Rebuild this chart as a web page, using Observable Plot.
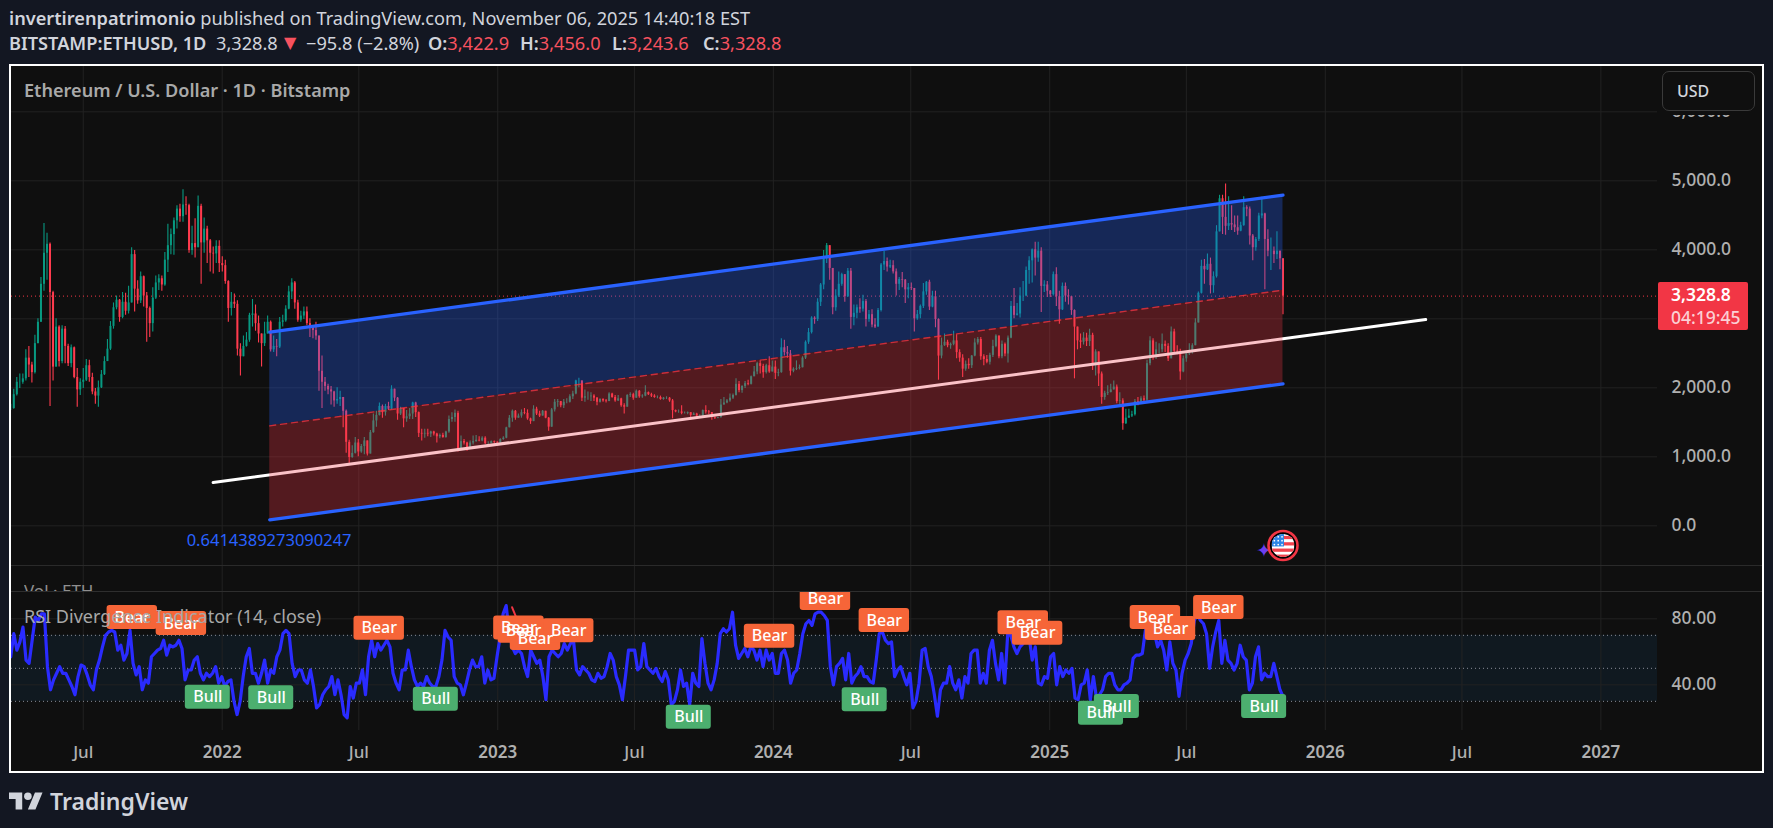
<!DOCTYPE html>
<html><head><meta charset="utf-8">
<script src="https://cdn.jsdelivr.net/npm/d3@7"></script>
<script src="https://cdn.jsdelivr.net/npm/@observablehq/plot@0.6"></script>
<style>
html,body{margin:0;padding:0;background:#131722;width:1773px;height:828px;overflow:hidden;font-family:"Noto Sans",sans-serif}
.abs{position:absolute;white-space:nowrap}
svg{display:block;background:transparent}
#frame{left:9px;top:64px;width:1751px;height:705px;border:2px solid #fff;background:#0f0f0f}
.hdr{font-size:18.2px;color:#d1d4dc;line-height:24px}
.hdr b{font-weight:600}.r{color:#f7525f}
#p1,#p2{position:absolute;left:11px}
</style></head><body>
<div class="abs hdr" style="left:9px;top:6px"><b>invertirenpatrimonio</b> published on TradingView.com, November 06, 2025 14:40:18 EST</div>
<div class="abs hdr" style="left:9px;top:31px"><b>BITSTAMP:ETHUSD, 1D</b></div>
<div class="abs hdr" style="left:216px;top:31px">3,328.8</div>
<div class="abs hdr r" style="left:284px;top:31px;font-family:'DejaVu Sans';font-size:16px">▼</div>
<div class="abs hdr" style="left:306px;top:31px">−95.8 (−2.8%)</div>
<div class="abs hdr" style="left:428px;top:31px"><b>O:</b><span class="r">3,422.9</span></div>
<div class="abs hdr" style="left:520px;top:31px"><b>H:</b><span class="r">3,456.0</span></div>
<div class="abs hdr" style="left:612px;top:31px"><b>L:</b><span class="r">3,243.6</span></div>
<div class="abs hdr" style="left:703px;top:31px"><b>C:</b><span class="r">3,328.8</span></div>
<div id="frame" class="abs"></div>
<div id="p1" style="top:66px"></div>
<div id="p2" style="top:591px"></div>
<div class="abs" style="left:11px;top:565px;width:1751px;height:1px;background:#2a2a2a"></div>
<div class="abs" style="left:11px;top:591px;width:1751px;height:1px;background:#2e2e2e"></div>
<div class="abs" style="left:24px;top:78px;font-size:18.1px;font-weight:600;color:#a9a9a9;line-height:24px">Ethereum / U.S. Dollar · 1D · Bitstamp</div>
<div class="abs" style="left:24px;top:566px;height:25px;overflow:hidden;font-size:17px;color:#8f8f8f;line-height:24px"><div style="margin-top:13px">Vol · ETH</div></div>
<div class="abs" style="left:24px;top:604px;font-size:18px;color:#a8a8a8;line-height:24px">RSI Divergence Indicator (14, close)</div>
<div class="abs" style="left:1660px;top:70px;width:100px;height:45px;background:#0f0f0f"></div>
<div class="abs" style="left:1662px;top:71px;width:91px;height:38px;border:1px solid #3a3a3a;border-radius:7px;background:#0f0f0f;color:#d1d4dc;font-size:16px;font-weight:500;line-height:38px;text-indent:14px">USD</div>
<div class="abs" style="left:1658px;top:282px;width:77px;height:47px;background:#f23645;border-radius:2px;color:#fff;font-size:17.5px;font-weight:600;line-height:23px;padding:1px 0 0 13px">3,328.8<br><span style="color:#fbd0d4;font-weight:500">04:19:45</span></div>
<svg class="abs" style="left:9px;top:791px" width="34" height="20" viewBox="0 3.5 36 19"><g fill="#d1d4dc"><path d="M14 22H7V11H0V4h14v18zM28 22h-8l7.5-18h8L28 22z"/><circle cx="20" cy="8" r="4"/></g></svg>
<div class="abs" style="left:50px;top:784px;font-size:23px;font-weight:600;color:#d1d4dc;line-height:34px">TradingView</div>
<script>
const closes=[
1700,1900,2080,2080,2130,2430,2330,2220,2640,2950,
3500,3950,4080,3380,2300,2880,2380,2850,2600,2350,
2580,2150,1970,2080,2110,2320,2150,1940,1880,2000,
2190,2380,2560,2890,3160,3270,3020,3240,3110,3230,
3930,3430,3260,3610,3330,3150,2930,3300,3520,3580,
3490,3850,4060,4220,4420,4590,4480,4650,4640,3990,
4090,4030,4630,4100,4300,4130,3950,3940,4050,3800,
3770,3540,3150,3240,3210,2560,2450,2600,2690,3050,
3070,2930,2780,2640,2780,2950,2550,2600,2590,2950,
2970,3140,3390,3520,3230,2980,3040,3100,2930,2880,
2830,2750,2240,2080,2020,1970,1940,1810,1830,1860,
1660,1210,990,1050,1200,1070,1150,1230,1040,1350,
1520,1600,1730,1640,1730,1690,1980,1850,1620,1700,
1550,1580,1620,1780,1640,1340,1330,1340,1330,1360,
1330,1290,1310,1280,1360,1540,1570,1630,1100,1220,
1200,1110,1200,1220,1240,1230,1270,1190,1190,1220,
1210,1200,1250,1270,1420,1560,1660,1560,1590,1640,
1630,1550,1510,1690,1620,1590,1660,1560,1430,1680,
1790,1800,1740,1790,1790,1870,1910,2100,2100,1850,
1870,1870,1880,1850,1790,1830,1810,1800,1910,1860,
1810,1840,1740,1720,1890,1900,1850,1950,1870,1880,
1930,1900,1880,1860,1860,1830,1850,1850,1810,1670,
1650,1650,1630,1630,1640,1600,1620,1590,1590,1670,
1650,1640,1570,1560,1570,1750,1780,1810,1850,1890,
2050,1960,2020,2060,2050,2160,2230,2350,2310,2220,
2320,2230,2300,2210,2220,2580,2510,2490,2240,2270,
2280,2290,2430,2660,2800,3010,2990,3240,3490,3870,
4060,3730,3160,3330,3500,3640,3320,3690,3020,3080,
3160,3140,3250,2990,3060,2910,2880,3120,3780,3830,
3750,3770,3680,3500,3570,3560,3420,3450,3440,3000,
3060,3180,3390,3530,3170,3320,2990,2460,2610,2660,
2610,2630,2680,2510,2430,2270,2340,2320,2460,2650,
2700,2450,2410,2370,2470,2600,2750,2450,2630,2490,
2720,3180,3050,3070,3330,3330,3700,3840,4000,3880,
3980,3470,3490,3400,3350,3640,3320,3130,3470,3330,
3320,3120,2880,2680,2660,2720,2670,2760,2320,2520,
2200,1860,1920,1930,1970,2010,1800,1810,1480,1560,
1590,1610,1800,1790,1840,1820,2350,2680,2470,2550,
2550,2630,2600,2420,2810,2530,2520,2230,2420,2490,
2510,2610,2940,3370,3760,3710,3790,3480,3610,4260,
4740,4470,4340,4380,4360,4320,4270,4350,4610,4590,
4200,4030,4150,4490,4520,4150,3980,3980,3930,3980,
3870,3328.8];
const highs=[
1760,1980,2150,2200,2200,2550,2600,2370,2760,3000,
3600,4380,4240,4100,3400,3000,2900,2900,2890,2630,
2620,2590,2280,2130,2280,2410,2400,2210,1990,2100,
2250,2450,2700,2960,3230,3330,3280,3380,3370,3470,
4030,3990,3550,3680,3620,3380,3170,3450,3620,3640,
3620,3960,4370,4300,4460,4640,4660,4870,4770,4660,
4340,4450,4780,4660,4460,4340,4150,4040,4130,4130,
3900,3850,3550,3380,3360,3260,2640,2750,2800,3080,
3280,3200,3040,2780,2950,3040,2970,2750,2700,3020,
3050,3190,3470,3580,3540,3270,3110,3170,3170,3000,
2880,2950,2750,2460,2150,2050,2020,1950,2000,1950,
1860,1680,1240,1160,1280,1250,1180,1280,1230,1380,
1620,1660,1780,1750,1760,1790,2030,1960,1860,1720,
1620,1670,1700,1790,1790,1650,1400,1400,1400,1370,
1370,1340,1330,1340,1370,1590,1640,1680,1660,1300,
1250,1210,1230,1300,1310,1290,1290,1290,1220,1230,
1230,1220,1260,1290,1430,1600,1680,1670,1620,1680,
1700,1680,1560,1740,1720,1660,1670,1660,1570,1700,
1830,1830,1800,1830,1840,1900,1950,2110,2140,2100,
1970,1940,1930,1900,1860,1840,1840,1830,1930,1920,
1890,1890,1850,1770,1900,1930,1920,1970,1960,1900,
2030,1940,1920,1900,1880,1880,1860,1870,1860,1830,
1680,1680,1740,1650,1650,1640,1640,1630,1610,1680,
1740,1670,1640,1580,1570,1830,1860,1830,1910,1910,
2130,2090,2030,2090,2110,2170,2310,2370,2390,2340,
2340,2450,2390,2390,2270,2710,2690,2600,2540,2290,
2390,2330,2450,2680,2860,3030,3030,3290,3510,3990,
4090,4060,3730,3420,3680,3660,3640,3730,3730,3200,
3200,3290,3340,3280,3120,3130,3000,3150,3800,3980,
3880,3850,3840,3720,3600,3670,3570,3510,3520,3440,
3120,3200,3510,3540,3560,3400,3400,3000,2720,2780,
2690,2650,2820,2770,2550,2480,2390,2420,2470,2710,
2730,2730,2480,2470,2500,2690,2770,2750,2680,2650,
2750,3250,3440,3220,3450,3540,3750,3900,4010,4110,
4110,4030,3550,3540,3410,3680,3740,3400,3520,3520,
3420,3260,3130,2870,2780,2800,2790,2850,2790,2550,
2520,2230,1950,2030,2050,2100,2040,1930,1840,1690,
1690,1660,1830,1860,1870,1880,2400,2740,2710,2660,
2640,2780,2680,2640,2880,2850,2610,2560,2460,2520,
2640,2640,3000,3390,3850,3860,3940,3880,3680,4350,
4790,4790,4955,4770,4640,4490,4490,4400,4770,4640,
4620,4220,4180,4530,4760,4530,4290,4170,4040,4260,
3920,3456];
const lows=[
1670,1690,1880,1990,2050,2100,2150,2070,2200,2640,
2950,3400,3560,1730,2100,2300,2300,2350,2350,2310,
2290,2130,1720,1890,1990,2090,2080,1900,1760,1720,
1990,2180,2380,2540,2850,3130,2950,3000,3050,3070,
3230,3100,3210,3220,3170,2660,2730,2810,3280,3410,
3400,3470,3670,3930,3920,4300,4400,4400,4500,3950,
3920,3880,4030,3500,3950,3800,3680,3650,3800,3670,
3680,3500,2950,3040,3150,2460,2170,2450,2590,2660,
2880,2820,2650,2300,2600,2780,2520,2510,2450,2570,
2880,2950,3130,3280,3140,2950,2950,2990,2900,2730,
2710,2690,1950,1700,1950,1900,1750,1720,1760,1730,
1420,1050,880,980,1040,1000,1050,1030,1010,1060,
1340,1430,1590,1560,1590,1670,1680,1800,1530,1600,
1420,1500,1540,1540,1570,1280,1230,1270,1290,1280,
1300,1200,1260,1270,1270,1340,1500,1500,1070,1190,
1170,1080,1110,1170,1210,1220,1220,1180,1160,1190,
1190,1190,1190,1240,1260,1500,1500,1530,1560,1560,
1610,1530,1470,1510,1600,1570,1600,1550,1370,1450,
1650,1720,1710,1700,1770,1780,1830,1900,2000,1800,
1790,1820,1800,1800,1740,1780,1790,1780,1800,1850,
1790,1800,1720,1620,1720,1860,1820,1850,1850,1850,
1870,1890,1860,1850,1840,1820,1820,1830,1790,1550,
1640,1630,1610,1620,1610,1530,1600,1570,1560,1580,
1620,1610,1530,1540,1550,1560,1760,1770,1790,1830,
1880,1930,1920,1990,2030,2040,2170,2190,2200,2140,
2200,2210,2230,2120,2160,2210,2460,2430,2170,2220,
2250,2260,2290,2410,2630,2780,2920,2960,3180,3420,
3800,3560,3060,3110,3310,3470,3240,3310,2850,2900,
3000,3080,3100,2880,2950,2870,2860,2880,3100,3700,
3680,3730,3650,3330,3410,3450,3220,3290,3410,2810,
2980,3000,3150,3340,3120,3160,2870,2110,2420,2600,
2580,2560,2610,2420,2370,2150,2240,2270,2280,2450,
2620,2400,2320,2350,2330,2440,2580,2420,2420,2450,
2360,2710,3000,3040,3010,3250,3320,3500,3520,3620,
3820,3090,3380,3310,3310,3330,3180,2920,3120,3240,
3200,3050,2130,2550,2570,2620,2600,2600,2250,2170,
2020,1760,1820,1890,1930,1990,1770,1750,1385,1470,
1570,1570,1590,1740,1780,1760,1800,2320,2400,2410,
2490,2510,2510,2380,2430,2490,2480,2110,2220,2370,
2470,2490,2620,2950,3360,3500,3700,3360,3370,3590,
4300,4220,4210,4280,4280,4250,4210,4260,4340,4480,
4070,3840,3980,4120,4450,3420,3900,3700,3800,3860,
3710,3060];
const rsi=[57,71,61,66,75,55,53,67,81,79,83,83,51,37,43,47,51,47,47,43,39,34,45,52,51,46,40,37,49,55,63,70,72,73,72,61,64,55,59,73,53,46,51,37,43,41,57,59,61,62,67,58,64,63,64,67,62,43,49,49,55,57,47,43,47,45,47,51,41,45,39,42,43,30,22,30,45,57,62,47,47,41,47,55,41,49,47,57,61,71,73,71,53,45,49,49,43,41,49,39,26,28,34,37,39,45,34,43,34,22,20,39,32,41,41,49,34,57,67,57,65,61,64,67,63,47,41,37,49,49,61,51,43,39,41,39,45,41,39,39,45,55,73,69,67,45,41,40,34,41,49,55,51,51,57,41,49,43,44,57,69,83,88,71,63,59,61,59,51,45,61,57,53,55,45,31,57,61,59,57,59,65,61,65,67,49,46,51,49,47,43,42,47,
44,45,51,59,55,45,40,31,45,61,61,61,49,51,65,51,49,47,50,45,42,48,43,28,30,37,49,39,41,28,47,41,39,68,53,41,37,43,53,71,74,72,74,84,64,56,59,62,57,63,61,55,61,51,61,55,59,47,47,59,61,55,41,47,49,59,71,77,79,76,83,84,84,82,79,51,40,51,53,56,43,59,41,45,47,51,45,45,42,41,55,71,72,67,65,66,45,49,51,45,40,47,26,30,41,61,62,51,45,34,21,37,41,41,51,41,37,43,32,45,41,59,61,61,41,47,41,61,67,53,43,59,41,71,70,63,59,63,65,70,69,55,63,41,40,45,44,57,59,40,51,45,49,47,50,32,31,40,41,49,31,45,32,34,37,45,47,47,40,37,37,40,41,43,56,58,58,59,73,69,71,71,63,67,61,49,66,53,49,33,47,55,59,65,79,83,
79,77,71,50,63,72,79,53,67,55,53,49,53,64,57,55,37,41,57,63,43,47,45,45,53,45,37,33];
const bearLabels=["2021-09-04","2021-11-08","2022-07-28","2023-01-29","2023-02-04","2023-02-20","2023-04-05","2023-12-27","2024-03-10","2024-05-27","2024-11-27","2024-12-16","2025-05-21","2025-06-10","2025-08-13"];
const bearValues=[80.8,77.2,74.3,74.5,72.5,68.1,72.7,69.5,92.3,79,77.6,71.3,80.8,74.1,86.9];
const bullLabels=["2021-12-13","2022-03-07","2022-10-11","2023-09-11","2024-05-01","2025-03-31","2025-03-10","2025-10-12"];
const bullValues=[32.5,32.1,31.3,20.4,30.9,26.9,22.8,26.9];
const redDates=["2023-01-20","2023-01-28"];
const redValues=[87,78];
const channelDates=["2022-03-05","2025-11-06"];
const channelTop=[2806,4792];
const channelMid=[1449,3415];
const channelBottom=[87,2058];
const trendDates=["2021-12-20","2026-05-14"];
const trendValues=[627,2990];
const priceTicks=[0,1000,2000,3000,4000,5000,6000];
const priceLabels=[0,1000,2000,4000,5000,6000];
const rsiTicks=[40,80];
const rsiBands=[30,50,70];
const yearTicks=["2022-01-01","2023-01-01","2024-01-01","2025-01-01","2026-01-01","2027-01-01"];
const julTicks=["2021-07-01","2022-07-01","2023-07-01","2024-07-01","2025-07-01","2026-07-01"];
const lastPrice=3328.8;
const startDay="2021-03-27",endDay="2025-11-06";
const colUp="#089981",colDown="#ff3b4e",grid="#222222",axisCol="#b0b0b0";

const D=s=>new Date(s+"T00:00:00Z");
const shift=(d,n)=>new Date(+d+n*864e5);
const t0=+D(startDay),t1=+D(endDay);
const at=(i,n)=>new Date(t0+(t1-t0)*i/(n-1));
const bars=closes.map((c,i)=>({d:at(i,closes.length),o:i?closes[i-1]:c,c,h:Math.max(highs[i],c,i?closes[i-1]:c),l:Math.min(lows[i],c,i?closes[i-1]:c)}));
const rsiData=rsi.map((v,i)=>({d:at(i,rsi.length),v}));
const channel=channelDates.map((d,i)=>({d:D(d),top:channelTop[i],mid:channelMid[i],bot:channelBottom[i]}));
const trend=trendDates.map((d,i)=>({d:D(d),v:trendValues[i]}));
const allTicks=[...yearTicks,...julTicks].map(D);
const xDomain=[D("2021-03-28"),D("2027-03-17")];
const W=1751,PR=W-1646;
const xScale={type:"utc",domain:xDomain,range:[0,1646]};
const font='"Noto Sans",sans-serif';

const flag="data:image/svg+xml,"+encodeURIComponent(`<svg xmlns="http://www.w3.org/2000/svg" viewBox="0 0 24 24"><clipPath id="c"><circle cx="12" cy="12" r="12"/></clipPath><g clip-path="url(#c)"><rect width="24" height="24" fill="#fff"/><g fill="#f0424d"><rect y="2" width="24" height="3.4"/><rect y="8.6" width="24" height="3.4"/><rect y="15.2" width="24" height="3.4"/><rect y="21.5" width="24" height="3"/></g><rect width="13" height="13" fill="#2e86e6"/><g fill="#fff"><circle cx="3" cy="3" r=".9"/><circle cx="7" cy="3" r=".9"/><circle cx="11" cy="3" r=".9"/><circle cx="3" cy="7" r=".9"/><circle cx="7" cy="7" r=".9"/><circle cx="11" cy="7" r=".9"/><circle cx="3" cy="11" r=".9"/><circle cx="7" cy="11" r=".9"/><circle cx="11" cy="11" r=".9"/></g></g></svg>`);
const iconAt=[{d:D(endDay),v:-285}];

const p1=Plot.plot({width:W,height:525,marginLeft:0,marginRight:PR,marginTop:0,marginBottom:0,
 style:{background:"transparent",fontFamily:font},
 x:{...xScale,axis:null},
 y:{domain:[-952,6656.5],range:[525,0],axis:null},
 marks:[
  Plot.ruleY(priceTicks,{stroke:grid,strokeWidth:1}),
  Plot.ruleX(allTicks,{stroke:grid,strokeWidth:1}),
  Plot.axisY({anchor:"right",ticks:priceLabels,tickSize:0,tickPadding:14,textAnchor:"start",fontSize:17.5,fontWeight:500,fill:axisCol,label:null,tickFormat:d3.format(",.1f")}),
  Plot.ruleY([lastPrice],{stroke:"#f23645",strokeWidth:1,strokeDasharray:"1 3"}),
  Plot.ruleX(bars,{x:"d",y1:"l",y2:"h",stroke:d=>d.c>=d.o?colUp:colDown,strokeWidth:1.1}),
  Plot.ruleX(bars,{x:"d",y1:"o",y2:"c",stroke:d=>d.c>=d.o?colUp:colDown,strokeWidth:2}),
  Plot.line(trend,{x:"d",y:"v",stroke:"#fff",strokeWidth:3}),
  Plot.areaY(channel,{x:"d",y1:"mid",y2:"top",fill:"#2962ff",fillOpacity:.3}),
  Plot.areaY(channel,{x:"d",y1:"bot",y2:"mid",fill:"#f23645",fillOpacity:.3}),
  Plot.line(channel,{x:"d",y:"mid",stroke:"#f23645",strokeOpacity:.75,strokeWidth:1.4,strokeDasharray:"6 5"}),
  Plot.line(channel,{x:"d",y:"top",stroke:"#2962ff",strokeWidth:3.3}),
  Plot.line(channel,{x:"d",y:"bot",stroke:"#2962ff",strokeWidth:3.3}),
  Plot.text(["0.6414389273090247"],{x:()=>D("2021-11-15"),y:()=>-213,text:d=>d,fill:"#2962ff",fontSize:16.5,textAnchor:"start"}),
  Plot.text(iconAt,{x:"d",y:"v",text:()=>"✦",fill:"#6d3ff0",fontFamily:"DejaVu Sans",fontSize:19,dx:-19,dy:5}),
  Plot.dot(iconAt,{x:"d",y:"v",r:14.5,stroke:"#f23645",strokeWidth:2.6,fill:"#000"}),
  Plot.image(iconAt,{x:"d",y:"v",width:23,height:23,src:()=>flag})
 ]});
document.getElementById("p1").append(p1);

const bears=bearLabels.map((d,i)=>({d:D(d),v:bearValues[i],t:"Bear"}));
const bulls=bullLabels.map((d,i)=>({d:D(d),v:bullValues[i],t:"Bull"}));
const labelBox=(arr,half,fill)=>Plot.rect(arr,{x1:d=>shift(d.d,-half),x2:d=>shift(d.d,half),y1:d=>d.v-7.27,y2:d=>d.v+7.27,fill,rx:3});
const labelText=arr=>Plot.text(arr,{x:"d",y:"v",text:"t",fill:"#fff",fontSize:16,fontWeight:500});
const redPart=redDates.map((d,i)=>({d:D(d),v:redValues[i]}));

const p2=Plot.plot({width:W,height:180,marginLeft:0,marginRight:PR,marginTop:0,marginBottom:41,
 style:{background:"transparent",fontFamily:font},
 x:{...xScale,axis:null},
 y:{domain:[12.33,96.55],range:[139,0],axis:null},
 marks:[
  Plot.rectY([0],{x1:xDomain[0],x2:xDomain[1],y1:()=>30,y2:()=>70,fill:"#2196f3",fillOpacity:.08}),
  Plot.ruleY(rsiTicks,{stroke:grid,strokeWidth:1}),
  Plot.ruleX(allTicks,{stroke:grid,strokeWidth:1}),
  Plot.ruleY(rsiBands,{stroke:"#8a8e99",strokeWidth:1,strokeDasharray:"1 3"}),
  Plot.axisY({anchor:"right",ticks:rsiTicks,tickSize:0,tickPadding:14,textAnchor:"start",fontSize:17.5,fontWeight:500,fill:axisCol,label:null,tickFormat:d3.format(".2f")}),
  Plot.axisX({ticks:julTicks.map(D),tickSize:0,tickPadding:15,fontSize:17,fontWeight:500,fill:axisCol,label:null,tickFormat:()=>"Jul"}),
  Plot.axisX({ticks:yearTicks.map(D),tickSize:0,tickPadding:15,fontSize:17,fontWeight:600,fill:axisCol,label:null,tickFormat:d3.utcFormat("%Y")}),
  Plot.line(redPart,{x:"d",y:"v",stroke:"#f23645",strokeWidth:2}),
  Plot.line(rsiData,{x:"d",y:"v",stroke:"#2a2bff",strokeWidth:3.2}),
  labelBox(bears,33.4,"#f66538"),
  labelBox(bulls,29.8,"#4caf6f"),
  labelText(bears),
  labelText(bulls)
 ]});
document.getElementById("p2").append(p2);
</script>
</body></html>
